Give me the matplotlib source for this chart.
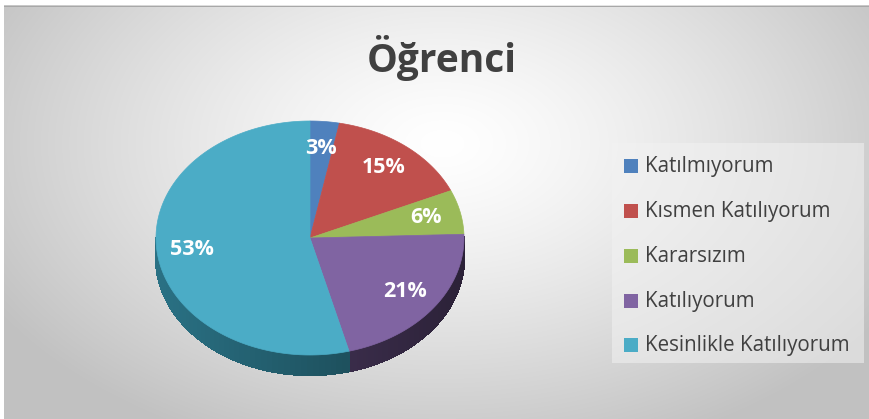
import numpy as np
import matplotlib
matplotlib.use("Agg")
from matplotlib import pyplot as plt
from matplotlib.patches import Polygon, Rectangle
import colorsys

# chart data (percent labels as shown, they add to 98)
labels = ["Katılmıyorum", "Kısmen Katılıyorum", "Kararsızım", "Katılıyorum", "Kesinlikle Katılıyorum"]
values = [3, 15, 6, 21, 53]
colors = ["#4f81bd", "#c0504d", "#9bbb59", "#8064a2", "#4bacc6"]
title = "Öğrenci"

W, H = 870, 419
# pie geometry in pixels
cx, cy = 310, 238
rx, ry = 154, 117
depth = 20


def shade(col, f):
    r, g, b = matplotlib.colors.to_rgb(col)
    h, l, s = colorsys.rgb_to_hls(r, g, b)
    return colorsys.hls_to_rgb(h, max(0, min(1, l * f)), s)


def pt(a, dz=0):
    return cx + rx * np.cos(a), cy - ry * np.sin(a) + dz


fig = plt.figure(figsize=(W / 100, H / 100), dpi=100)
ax = fig.add_axes([0, 0, 1, 1])
ax.set_xlim(0, W)
ax.set_ylim(H, 0)
ax.axis("off")

# background: radial gradient, white near top centre
yy, xx = np.mgrid[0:H, 0:W]
d = np.sqrt(((xx - 440) / 520.0) ** 2 + ((yy - 140) / 330.0) ** 2)
g = np.clip(1.0 - 0.24 * d ** 1.3, 0.76, 1.0)
bg = np.dstack([g, g, g])
ax.imshow(bg, extent=[4, W, H, 6], zorder=0, aspect="auto")
ax.add_patch(Rectangle((4, 6), W, 1.2, color="#a8a8a8", lw=0, zorder=1))

total = float(sum(values))
start = np.pi / 2
angles = []
a = start
for v in values:
    a2 = a - v / total * 2 * np.pi
    angles.append((a, a2))
    a = a2

# side wall (only the front half, angles between pi and 2pi)
for (a1, a2), c in zip(angles, colors):
    lo, hi = min(a1, a2), max(a1, a2)
    ts = np.linspace(lo, hi, 90)
    for t0, t1 in zip(ts[:-1], ts[1:]):
        tm = (t0 + t1) / 2
        if np.sin(tm) > 0.02:
            continue
        # darker towards right, lighter on left
        f = 0.64 - 0.30 * (np.cos(tm) + 1) / 2
        x0, y0 = pt(t0)
        x1, y1 = pt(t1)
        poly = [(x0, y0), (x1, y1), (x1, y1 + depth), (x0, y0 + depth)]
        col = shade(c, f)
        ax.add_patch(Polygon(poly, closed=True, facecolor=col, edgecolor=col,
                             lw=1.0, antialiased=False, zorder=2))

# top faces
for (a1, a2), c in zip(angles, colors):
    ts = np.linspace(a1, a2, 200)
    pts = [(cx, cy)] + [pt(t) for t in ts]
    ax.add_patch(Polygon(pts, closed=True, facecolor=c, edgecolor=c, lw=0.5, zorder=3))

# percentage labels
for (a1, a2), v in zip(angles, values):
    am = (a1 + a2) / 2
    x, y = cx + 0.77 * rx * np.cos(am), cy - 0.77 * ry * np.sin(am)
    ax.text(x, y, "%d%%" % v, color="white", fontsize=15.5, fontweight="bold",
            family="Open Sans", ha="center", va="center", zorder=5)

ax.text(442, 58, title, fontsize=28, fontweight="bold", color="#404040",
        family="Open Sans", ha="center", va="center", zorder=5)

# legend
ax.add_patch(Rectangle((612, 143), 252, 220, facecolor="#f2f2f2", alpha=0.55, lw=0, zorder=4))
ly = [166, 211, 256, 301, 345]
for y, lab, c in zip(ly, labels, colors):
    ax.add_patch(Rectangle((624, y - 7), 14, 14, color=c, lw=0, zorder=5))
    ax.text(645, y, lab, fontsize=14.8, color="#404040", family="Open Sans",
            ha="left", va="center", zorder=5)

fig.savefig("out.png", dpi=100)
